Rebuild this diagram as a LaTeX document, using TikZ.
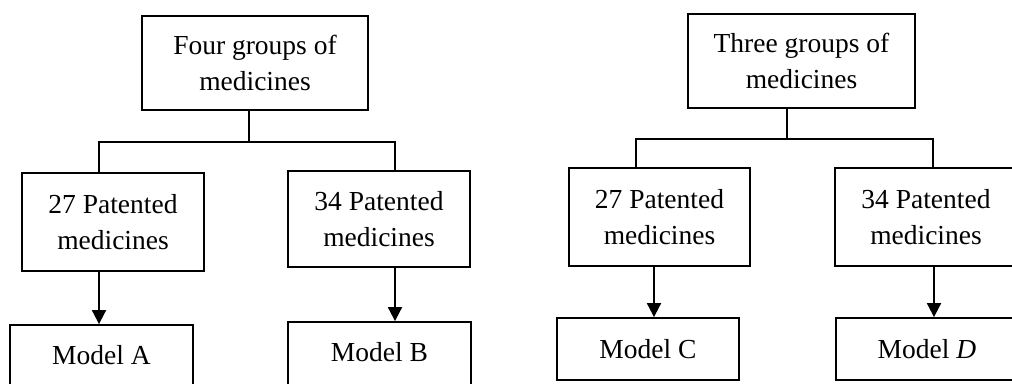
\documentclass[tikz,border=0pt]{standalone}
\usepackage{fontspec}
\setmainfont{Liberation Serif}
\usetikzlibrary{arrows.meta}
\begin{document}
\begin{tikzpicture}[x=1pt,y=-1pt,
  box/.style={draw, line width=1.8pt, align=center, inner sep=0pt,
    font=\fontsize{27.5}{36}\selectfont},
  link/.style={line width=1.8pt},
  arr/.style={line width=1.8pt, -{Triangle[length=14pt,width=14pt]}}]
\useasboundingbox (0,0) rectangle (1012,383);
\clip (0,0) rectangle (1012,383);
% left tree
\node[box, minimum width=226pt, minimum height=94pt] (top1) at (255,63) {Four groups of\\medicines};
\node[box, minimum width=182pt, minimum height=98pt] (p27a) at (113,222) {27 Patented\\medicines};
\node[box, minimum width=182pt, minimum height=96pt] (p34a) at (379,219) {34 Patented\\medicines};
\node[box, minimum width=183pt, minimum height=70pt] (mA) at (101.5,360) {\raisebox{10pt}{Model A}};
\node[box, minimum width=183pt, minimum height=70pt] (mB) at (379.5,357) {\raisebox{10pt}{Model B}};
\coordinate (j1) at (249,142);
\coordinate (bL1) at (99,142);
\coordinate (bR1) at (395,142);
\draw[link] (top1.south -| j1) -- (j1);
\draw[link] (bL1 |- p27a.north) -- (bL1) -- (bR1) -- (bR1 |- p34a.north);
\draw[arr] (p27a.south -| bL1) -- (mA.north -| bL1);
\draw[arr] (p34a.south -| bR1) -- (mB.north -| bR1);
% right tree
\node[box, minimum width=227pt, minimum height=94pt] (top2) at (801.5,61) {Three groups of\\medicines};
\node[box, minimum width=181pt, minimum height=98pt] (p27b) at (659.5,217) {27 Patented\\medicines};
\node[box, minimum width=182pt, minimum height=98pt] (p34b) at (926,217) {34 Patented\\medicines};
\node[box, minimum width=182pt, minimum height=62pt] (mC) at (648,349) {Model C};
\node[box, minimum width=182pt, minimum height=62pt] (mD) at (927,349) {Model \textit{D}};
\coordinate (j2) at (787,139);
\coordinate (bL2) at (636,139);
\coordinate (bR2) at (933,139);
\draw[link] (top2.south -| j2) -- (j2);
\draw[link] (bL2 |- p27b.north) -- (bL2) -- (bR2) -- (bR2 |- p34b.north);
\draw[arr] (p27b.south -| 654,0) -- (mC.north -| 654,0);
\draw[arr] (p34b.south -| 934,0) -- (mD.north -| 934,0);
\end{tikzpicture}
\end{document}
